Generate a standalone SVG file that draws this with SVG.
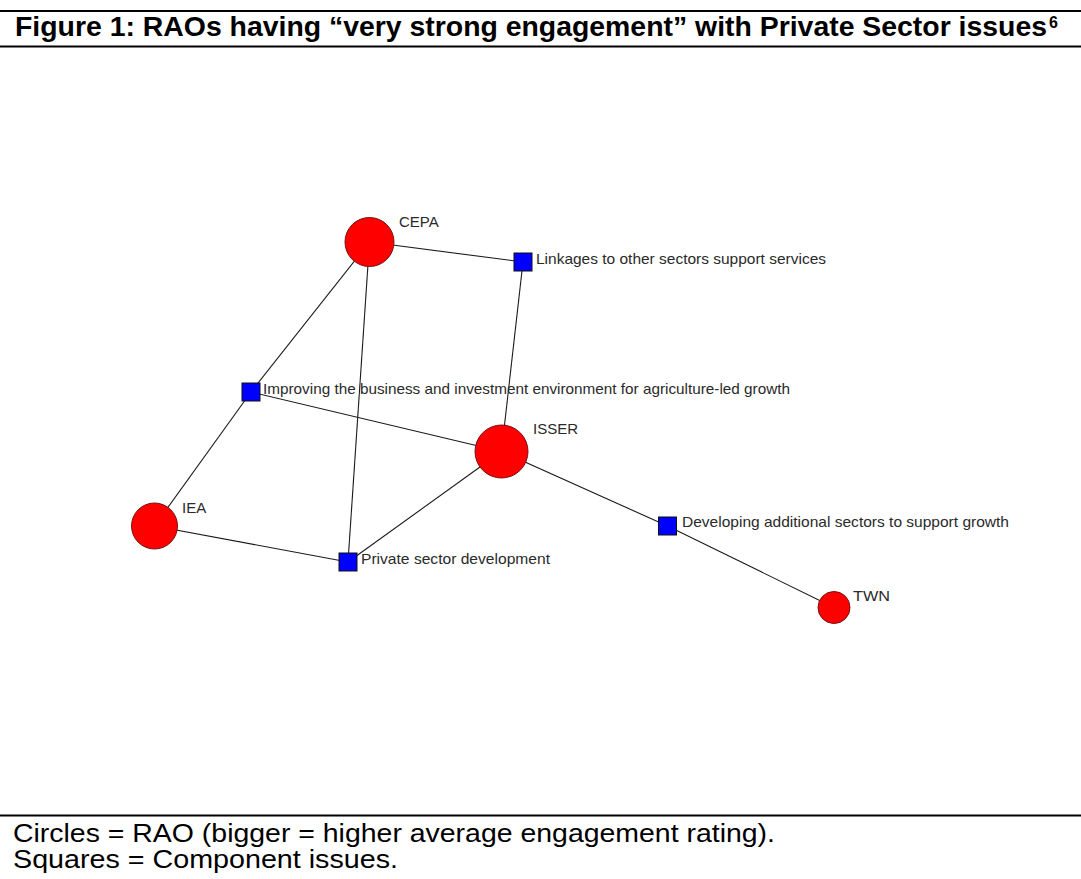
<svg xmlns="http://www.w3.org/2000/svg" width="1081" height="879" viewBox="0 0 1081 879">
<style>
.rule{stroke:#000;stroke-width:2.2}
.edge{stroke:#1a1a1a;stroke-width:1.1;fill:none}
.rao{fill:#ff0000;stroke:#7a1010;stroke-width:1}
.iss{fill:#0000ff;stroke:#111;stroke-width:1}
.lbl{font-family:"Liberation Sans",Arial,sans-serif;font-size:15px;fill:#2a2a2a}
.title{font-family:"Liberation Sans",Arial,sans-serif;font-weight:bold;fill:#000}
.foot{font-family:"Liberation Sans",Arial,sans-serif;font-size:25px;fill:#000}
</style>
<rect width="1081" height="879" fill="#fff"/>
<g id="header">
<line class="rule" x1="0" y1="11" x2="1081" y2="11"/>
<line class="rule" x1="0" y1="46.5" x2="1081" y2="46.5"/>
<text class="title" x="15" y="36" font-size="27" textLength="1032" lengthAdjust="spacingAndGlyphs">Figure 1: RAOs having “very strong engagement” with Private Sector issues</text>
<text class="title" x="1049" y="28" font-size="16">6</text>
</g>
<g id="connectors">
<line class="edge" x1="369.5" y1="242" x2="523" y2="262"/>
<line class="edge" x1="369.5" y1="242" x2="251" y2="392"/>
<line class="edge" x1="369.5" y1="242" x2="348" y2="562"/>
<line class="edge" x1="523" y1="262" x2="501.5" y2="451.5"/>
<line class="edge" x1="251" y1="392" x2="501.5" y2="451.5"/>
<line class="edge" x1="251" y1="392" x2="154.5" y2="526"/>
<line class="edge" x1="154.5" y1="526" x2="348" y2="562"/>
<line class="edge" x1="501.5" y1="451.5" x2="348" y2="562"/>
<line class="edge" x1="501.5" y1="451.5" x2="667.5" y2="526"/>
<line class="edge" x1="667.5" y1="526" x2="834" y2="607.5"/>
</g>
<g id="node-cepa">
<circle class="rao" cx="369.5" cy="242" r="24.5"/>
<text class="lbl" x="399" y="227">CEPA</text>
</g>
<g id="node-isser">
<circle class="rao" cx="501.5" cy="451.5" r="26.5"/>
<text class="lbl" x="533" y="434">ISSER</text>
</g>
<g id="node-iea">
<circle class="rao" cx="154.5" cy="526" r="23"/>
<text class="lbl" x="182" y="513">IEA</text>
</g>
<g id="node-twn">
<circle class="rao" cx="834" cy="607.5" r="16"/>
<text class="lbl" x="853" y="601" textLength="37" lengthAdjust="spacingAndGlyphs">TWN</text>
</g>
<g id="node-linkages">
<rect class="iss" x="514" y="253" width="18" height="18"/>
<text class="lbl" x="536" y="263.5" textLength="290" lengthAdjust="spacingAndGlyphs">Linkages to other sectors support services</text>
</g>
<g id="node-improving">
<rect class="iss" x="242" y="383" width="18" height="18"/>
<text class="lbl" x="263" y="393.5" textLength="527" lengthAdjust="spacingAndGlyphs">Improving the business and investment environment for agriculture-led growth</text>
</g>
<g id="node-private">
<rect class="iss" x="339" y="553" width="18" height="18"/>
<text class="lbl" x="361" y="563.5" textLength="189" lengthAdjust="spacingAndGlyphs">Private sector development</text>
</g>
<g id="node-developing">
<rect class="iss" x="658.5" y="517" width="18" height="18"/>
<text class="lbl" x="682" y="526.5" textLength="327" lengthAdjust="spacingAndGlyphs">Developing additional sectors to support growth</text>
</g>
<g id="footer">
<line class="rule" x1="0" y1="815.5" x2="1081" y2="815.5"/>
<text class="foot" x="13" y="842" textLength="762" lengthAdjust="spacingAndGlyphs">Circles = RAO (bigger = higher average engagement rating).</text>
<text class="foot" x="13" y="868" textLength="385" lengthAdjust="spacingAndGlyphs">Squares = Component issues.</text>
</g>
</svg>
